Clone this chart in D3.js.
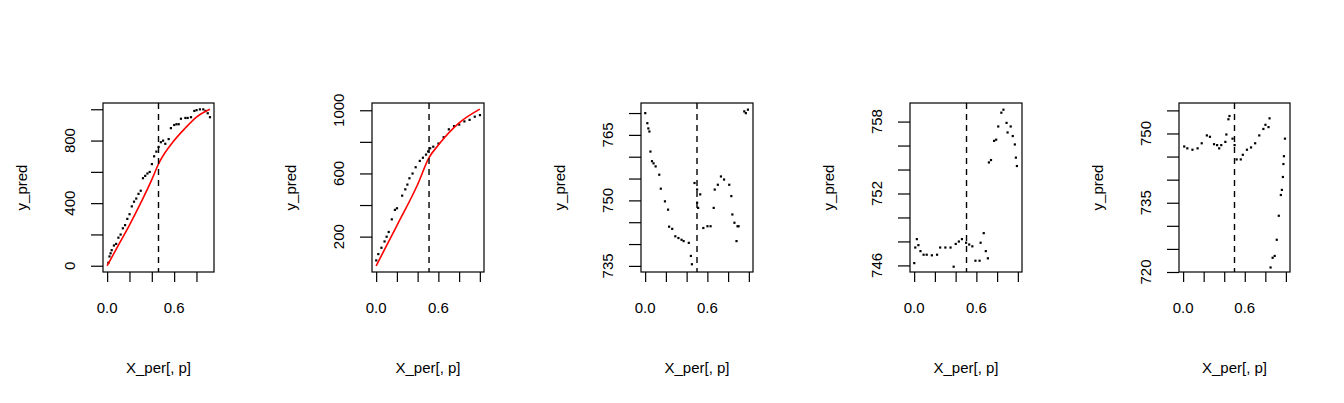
<!DOCTYPE html>
<html><head><meta charset="utf-8">
<script src="https://cdn.jsdelivr.net/npm/d3@7"></script>
<style>body{margin:0;background:#fff}text{font-family:"Liberation Sans",Arial,sans-serif;font-size:15px;fill:#000}</style>
</head><body><svg id="c" width="1344" height="403"></svg>
<script>
// points: [x, y_pred]
var p1Pts = [[0.01,20],[0.02,60],[0.03,80],[0.04,100],[0.06,130],[0.08,140],[0.1,180],[0.12,200],[0.14,240],[0.16,260],[0.18,300],[0.2,330],[0.22,380],[0.24,410],[0.26,430],[0.28,460],[0.3,480],[0.32,560],[0.34,575],[0.36,590],[0.38,600],[0.4,650],[0.42,700],[0.44,730],[0.46,760],[0.48,790],[0.5,800],[0.52,780],[0.55,810],[0.57,880],[0.6,900],[0.62,905],[0.64,905],[0.66,940],[0.7,945],[0.72,945],[0.75,950],[0.78,990],[0.8,995],[0.83,1000],[0.86,1000],[0.88,990],[0.9,975],[0.92,950]];
var p1Fit = [[0,0],[0.1,130],[0.2,260],[0.3,400],[0.4,550],[0.46,650],[0.6,800],[0.7,880],[0.8,950],[0.92,1000]];
var p2Pts = [[0,50],[0.02,90],[0.05,130],[0.08,170],[0.1,200],[0.12,230],[0.15,310],[0.18,370],[0.2,380],[0.25,460],[0.28,500],[0.3,530],[0.32,570],[0.35,600],[0.38,640],[0.42,680],[0.45,700],[0.48,720],[0.5,740],[0.52,760],[0.55,770],[0.6,790],[0.65,830],[0.7,880],[0.75,900],[0.8,910],[0.85,930],[0.9,940],[0.95,960],[1.0,970]];
var p2Fit = [[0,15],[0.2,270],[0.4,530],[0.51,700],[0.6,780],[0.8,920],[1.0,1007]];
var p3Pts = [[0,770],[0.02,767.7],[0.03,766.5],[0.04,765.8],[0.05,761.2],[0.065,759],[0.08,758.5],[0.1,757.8],[0.135,755.9],[0.15,752.7],[0.19,749.8],[0.22,747.9],[0.23,744],[0.26,743.5],[0.29,741.8],[0.32,741.4],[0.35,741],[0.37,740.7],[0.42,740.3],[0.44,737.3],[0.45,735.4],[0.475,754],[0.5,752.5],[0.5,749.5],[0.51,748.3],[0.53,751.4],[0.56,743.7],[0.6,744.1],[0.63,744.1],[0.66,748.3],[0.67,752.5],[0.7,753.6],[0.73,755.5],[0.76,754.8],[0.81,753.6],[0.83,751],[0.84,746.8],[0.86,744.9],[0.89,744.1],[0.88,740.7],[0.9,744.1],[0.955,770.4],[0.97,770],[0.99,770.8]];
var p4Pts = [[0,746.2],[0.01,747.5],[0.025,748.2],[0.04,747.7],[0.06,747.2],[0.09,746.9],[0.12,746.9],[0.17,746.85],[0.22,746.9],[0.25,747.5],[0.3,747.5],[0.35,747.5],[0.38,745.9],[0.4,747.8],[0.43,748],[0.46,748.2],[0.5,747.9],[0.53,747.75],[0.56,747.6],[0.59,746.4],[0.63,746.4],[0.64,747.9],[0.67,748.7],[0.69,747.2],[0.71,746.6],[0.72,754.6],[0.74,754.8],[0.77,756.4],[0.79,756.5],[0.81,757.6],[0.84,758.75],[0.86,759],[0.89,757.9],[0.9,757.1],[0.93,757.6],[0.95,756.8],[0.97,756.1],[0.98,755],[0.99,754.3]];
var p5Pts = [[0.01,747.2],[0.04,746.8],[0.09,746.5],[0.14,746.8],[0.18,747.9],[0.23,749.6],[0.26,749.3],[0.3,747.7],[0.33,747.5],[0.35,746.8],[0.37,747.5],[0.41,748.2],[0.42,749.8],[0.44,753.1],[0.45,753.8],[0.48,748.9],[0.5,747.5],[0.52,744.4],[0.56,744.4],[0.58,745.4],[0.62,746.5],[0.66,747],[0.7,747.9],[0.74,749.6],[0.78,751],[0.8,751.9],[0.83,751.4],[0.84,753.3],[0.85,721],[0.87,723.1],[0.89,723.5],[0.91,727],[0.93,732.2],[0.95,736.7],[0.96,737.8],[0.97,740.6],[0.975,743.4],[0.98,745.1],[0.99,748.9]];

var panels = [
  {pts:p1Pts, fit:p1Fit, cut:0.46, xd:[-0.037,0.957], yd:[-40,1040], yt:d3.range(0,1001,200), yl:[0,400,800], left:103, w:111},
  {pts:p2Pts, fit:p2Fit, cut:0.51, xd:[-0.04,1.04], yd:[-24,1046], yt:d3.range(200,1001,200), yl:[200,600,1000], left:372, w:112},
  {pts:p3Pts, fit:null, cut:0.5, xd:[-0.04,1.04], yd:[733.6,772.3], yt:d3.range(735,771,5), yl:[735,750,765], left:641, w:112},
  {pts:p4Pts, fit:null, cut:0.505, xd:[-0.04,1.04], yd:[745.45,759.55], yt:d3.range(746,759,2), yl:[746,752,758], left:910, w:112},
  {pts:p5Pts, fit:null, cut:0.5, xd:[-0.04,1.04], yd:[720,756.6], yt:d3.range(720,756,5), yl:[720,735,750], left:1179, w:111}
];
var plotTop = 103, plotH = 169;
var svg = d3.select("#c");

panels.forEach(function(p){
  var x = d3.scaleLinear().domain(p.xd).range([p.left, p.left + p.w]);
  var y = d3.scaleLinear().domain(p.yd).range([plotTop + plotH, plotTop]);
  var g = svg.append("g");

  g.selectAll("rect.pt").data(p.pts).enter().append("rect")
    .attr("x", function(d){ return x(d[0]) - 1; })
    .attr("y", function(d){ return y(d[1]) - 1; })
    .attr("width", 2.2).attr("height", 2.2).attr("fill", "#000");

  if (p.fit) {
    g.append("path").datum(p.fit)
      .attr("d", d3.line().x(function(d){ return x(d[0]); }).y(function(d){ return y(d[1]); }).curve(d3.curveMonotoneX))
      .attr("fill", "none").attr("stroke", "#f00").attr("stroke-width", 1.6);
  }

  g.append("line").attr("x1", x(p.cut)).attr("x2", x(p.cut)).attr("y1", plotTop).attr("y2", plotTop + plotH)
    .attr("stroke", "#000").attr("stroke-width", 1.4).attr("stroke-dasharray", "6,5");

  g.append("rect").attr("x", p.left).attr("y", plotTop).attr("width", p.w).attr("height", plotH)
    .attr("fill", "none").attr("stroke", "#000").attr("stroke-width", 1.2);

  // axes
  var xa = d3.axisBottom(x).tickValues(d3.range(0, 1.01, 0.2).filter(function(v){ return v <= p.xd[1]; }))
    .tickSize(10).tickFormat("");
  g.append("g").attr("transform", "translate(0," + (plotTop + plotH) + ")").call(xa);
  var ya = d3.axisLeft(y).tickValues(p.yt).tickSize(12).tickFormat("");
  g.append("g").attr("transform", "translate(" + p.left + ",0)").call(ya);
  g.selectAll(".domain").remove();
  g.selectAll(".tick line").attr("stroke-width", 1.2);

  [0, 0.6].forEach(function(v){
    g.append("text").attr("x", x(v)).attr("y", plotTop + plotH + 41).attr("text-anchor", "middle").text(v.toFixed(1));
  });
  p.yl.forEach(function(v){
    g.append("text").attr("transform", "translate(" + (p.left - 28) + "," + y(v) + ") rotate(-90)")
      .attr("text-anchor", "middle").text(v);
  });
  g.append("text").attr("x", p.left + p.w / 2).attr("y", plotTop + plotH + 101).attr("text-anchor", "middle").text("X_per[, p]");
  g.append("text").attr("transform", "translate(" + (p.left - 76) + "," + (plotTop + plotH / 2) + ") rotate(-90)")
    .attr("text-anchor", "middle").text("y_pred");
});
</script></body></html>
